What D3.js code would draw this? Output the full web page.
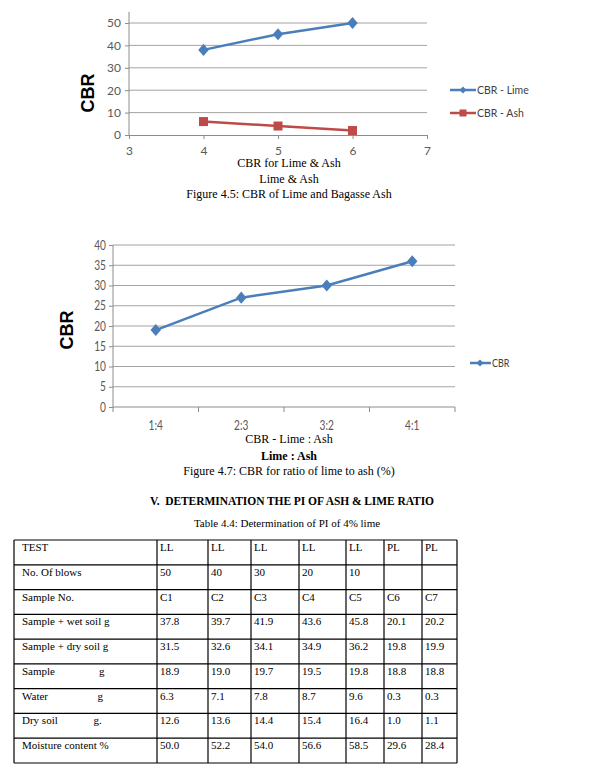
<!DOCTYPE html>
<html><head><meta charset="utf-8">
<script src="https://cdn.jsdelivr.net/npm/d3@7"></script>
<style>body{margin:0;background:#fff}svg{display:block}</style>
</head><body>
<script>
// Chart 1 data
const c1X = [4, 5, 6];
const c1Lime = [38, 45, 50];
const c1Ash = [6, 4, 2];
const c1YTicks = [0, 10, 20, 30, 40, 50];
const c1XTicks = [3, 4, 5, 6, 7];
// Chart 2 data
const c2Cats = ["1:4", "2:3", "3:2", "4:1"];
const c2Vals = [19, 27, 30, 36];
const c2YTicks = [0, 5, 10, 15, 20, 25, 30, 35, 40];
// Table data
const tblHeader = ["TEST", "LL", "LL", "LL", "LL", "LL", "PL", "PL"];
const tblRowLabels = ["No. Of blows", "Sample No.", "Sample + wet soil g", "Sample + dry soil g", "Sample\u00a0\u00a0\u00a0\u00a0\u00a0\u00a0\u00a0\u00a0\u00a0\u00a0\u00a0\u00a0\u00a0\u00a0\u00a0\u00a0g", "Water\u00a0\u00a0\u00a0\u00a0\u00a0\u00a0\u00a0\u00a0\u00a0\u00a0\u00a0\u00a0\u00a0\u00a0\u00a0\u00a0\u00a0\u00a0g", "Dry soil\u00a0\u00a0\u00a0\u00a0\u00a0\u00a0\u00a0\u00a0\u00a0\u00a0\u00a0\u00a0\u00a0g.", "Moisture content %"];
const tblBlows = ["50", "40", "30", "20", "10", "", ""];
const tblSample = ["C1", "C2", "C3", "C4", "C5", "C6", "C7"];
const tblWet = ["37.8", "39.7", "41.9", "43.6", "45.8", "20.1", "20.2"];
const tblDry = ["31.5", "32.6", "34.1", "34.9", "36.2", "19.8", "19.9"];
const tblSampleG = ["18.9", "19.0", "19.7", "19.5", "19.8", "18.8", "18.8"];
const tblWater = ["6.3", "7.1", "7.8", "8.7", "9.6", "0.3", "0.3"];
const tblDrySoil = ["12.6", "13.6", "14.4", "15.4", "16.4", "1.0", "1.1"];
const tblMoisture = ["50.0", "52.2", "54.0", "56.6", "58.5", "29.6", "28.4"];

const W = 604, H = 770;
const svg = d3.select("body").append("svg").attr("width", W).attr("height", H);
const serif = "'Liberation Serif','Times New Roman',serif";
const calib = "Lato,'Open Sans',sans-serif";
const blue = "#4A7EBB", red = "#BE4B48", grid = "#8c8c8c", tickCol = "#595959";
const sx = 0.78; // horizontal condensing for the narrow chart-2 labels

// ---------- Chart 1 ----------
{
  const x = d3.scaleLinear().domain([3, 7]).range([129, 427]);
  const y = d3.scaleLinear().domain([0, 55]).range([135, 11.8]);
  const g = svg.append("g");
  g.selectAll("line.grid").data(c1YTicks.filter(d => d > 0)).join("line")
    .attr("x1", 129).attr("x2", 427).attr("y1", d => y(d)).attr("y2", d => y(d))
    .attr("stroke", grid).attr("stroke-width", 0.8);
  const ya = g.append("g").attr("transform", "translate(129,0)")
    .call(d3.axisLeft(y).tickValues(c1YTicks).tickSize(4).tickPadding(4));
  ya.select(".domain").attr("stroke", grid).attr("d", `M-0,${y(55)}V${y(0)}`);
  ya.selectAll(".tick line").attr("stroke", grid);
  ya.selectAll("text").attr("font-family", calib).attr("font-size", 12).attr("fill", tickCol);
  const xa = g.append("g").attr("transform", `translate(0,${y(0)})`)
    .call(d3.axisBottom(x).tickValues(c1XTicks).tickFormat(d3.format("d")).tickSize(4).tickPadding(7));
  xa.select(".domain").attr("stroke", grid);
  xa.selectAll(".tick line").attr("stroke", grid);
  xa.selectAll("text").attr("font-family", calib).attr("font-size", 12).attr("fill", tickCol);

  const line = d3.line().x((d, i) => x(c1X[i])).y(d => y(d));
  g.append("path").datum(c1Lime).attr("d", line).attr("fill", "none").attr("stroke", blue).attr("stroke-width", 2.5);
  g.append("path").datum(c1Ash).attr("d", line).attr("fill", "none").attr("stroke", red).attr("stroke-width", 2.5);
  const diamond = d3.symbol().type(d3.symbolDiamond2).size(70);
  g.selectAll("path.lm").data(c1Lime).join("path").attr("d", diamond)
    .attr("transform", (d, i) => `translate(${x(c1X[i])},${y(d)}) scale(1,1.15)`).attr("fill", blue);
  g.selectAll("rect.am").data(c1Ash).join("rect")
    .attr("x", (d, i) => x(c1X[i]) - 4.5).attr("y", d => y(d) - 4.5).attr("width", 9).attr("height", 9).attr("fill", red);

  g.append("text").attr("transform", "translate(94,93) rotate(-90)").attr("text-anchor", "middle")
    .attr("font-family", "'Liberation Sans',Arial,sans-serif").attr("font-weight", "bold").attr("font-size", 18).text("CBR");

  // legend
  const lg = g.append("g");
  lg.append("line").attr("x1", 450).attr("x2", 476).attr("y1", 90).attr("y2", 90).attr("stroke", blue).attr("stroke-width", 2.5);
  lg.append("path").attr("d", d3.symbol().type(d3.symbolDiamond2).size(30)).attr("transform", "translate(463,90)").attr("fill", blue);
  lg.append("text").attr("x", 477).attr("y", 94).attr("font-family", calib).attr("font-size", 10.5).attr("fill", "#404040").text("CBR - Lime");
  lg.append("line").attr("x1", 450).attr("x2", 476).attr("y1", 113).attr("y2", 113).attr("stroke", red).attr("stroke-width", 2.5);
  lg.append("rect").attr("x", 459.5).attr("y", 109.5).attr("width", 7).attr("height", 7).attr("fill", red);
  lg.append("text").attr("x", 477).attr("y", 117).attr("font-family", calib).attr("font-size", 10.5).attr("fill", "#404040").text("CBR - Ash");

  g.append("text").attr("x", 289).attr("y", 167).attr("text-anchor", "middle").attr("font-family", serif).attr("font-size", 12).text("CBR for Lime & Ash");
  g.append("text").attr("x", 289).attr("y", 183).attr("text-anchor", "middle").attr("font-family", serif).attr("font-size", 12).text("Lime & Ash");
  g.append("text").attr("x", 289).attr("y", 198).attr("text-anchor", "middle").attr("font-family", serif).attr("font-size", 12).text("Figure 4.5: CBR of Lime and Bagasse Ash");
}

// ---------- Chart 2 ----------
{
  const x = d3.scaleBand().domain(c2Cats).range([113, 455]);
  const y = d3.scaleLinear().domain([0, 40]).range([407, 245]);
  const g = svg.append("g");
  g.selectAll("line.grid").data(c2YTicks.filter(d => d > 0)).join("line")
    .attr("x1", 113).attr("x2", 455).attr("y1", d => y(d)).attr("y2", d => y(d))
    .attr("stroke", grid).attr("stroke-width", 0.8);
  const ya = g.append("g").attr("transform", "translate(113,0)")
    .call(d3.axisLeft(y).tickValues(c2YTicks).tickSize(4).tickPadding(3));
  ya.select(".domain").attr("stroke", grid).attr("d", `M-0,${y(40)}V${y(0)}`);
  ya.selectAll(".tick line").attr("stroke", grid);
  ya.selectAll("text").attr("font-family", calib).attr("font-size", 13).attr("fill", tickCol)
    .attr("x", -7 / sx).attr("transform", `scale(${sx},1)`);
  const xa = g.append("g").attr("transform", `translate(0,${y(0)})`)
    .call(d3.axisBottom(x).tickSize(0).tickPadding(14));
  xa.select(".domain").attr("stroke", grid).attr("d", "M113,0H455");
  xa.selectAll("text").attr("font-family", calib).attr("font-size", 13).attr("fill", tickCol)
    .attr("transform", `scale(${sx},1)`);
  const bounds = c2Cats.map(c => x(c)).concat([455]);
  g.selectAll("line.xt").data(bounds).join("line")
    .attr("x1", d => d).attr("x2", d => d).attr("y1", y(0)).attr("y2", y(0) + 5).attr("stroke", grid);

  const cx = c => x(c) + x.bandwidth() / 2;
  const line = d3.line().x((d, i) => cx(c2Cats[i])).y(d => y(d));
  g.append("path").datum(c2Vals).attr("d", line).attr("fill", "none").attr("stroke", blue).attr("stroke-width", 2.5);
  g.selectAll("path.m").data(c2Vals).join("path").attr("d", d3.symbol().type(d3.symbolDiamond2).size(70))
    .attr("transform", (d, i) => `translate(${cx(c2Cats[i])},${y(d)}) scale(1,1.15)`).attr("fill", blue);

  g.append("text").attr("transform", "translate(73,330) rotate(-90)").attr("text-anchor", "middle")
    .attr("font-family", "'Liberation Sans',Arial,sans-serif").attr("font-weight", "bold").attr("font-size", 18).text("CBR");

  g.append("line").attr("x1", 470).attr("x2", 491).attr("y1", 363).attr("y2", 363).attr("stroke", blue).attr("stroke-width", 2.5);
  g.append("path").attr("d", d3.symbol().type(d3.symbolDiamond2).size(30)).attr("transform", "translate(480,363)").attr("fill", blue);
  g.append("text").attr("transform", `translate(492,367) scale(${sx},1)`).attr("font-family", calib).attr("font-size", 11.5).attr("fill", "#404040").text("CBR");

  g.append("text").attr("x", 289).attr("y", 443).attr("text-anchor", "middle").attr("font-family", serif).attr("font-size", 12).text("CBR - Lime : Ash");
  g.append("text").attr("x", 289).attr("y", 460).attr("text-anchor", "middle").attr("font-family", serif).attr("font-weight", "bold").attr("font-size", 12).text("Lime : Ash");
  g.append("text").attr("x", 289).attr("y", 475).attr("text-anchor", "middle").attr("font-family", serif).attr("font-size", 12).text("Figure 4.7: CBR for ratio of lime to ash (%)");
}

// ---------- Heading & table ----------
svg.append("text").attr("x", 150).attr("y", 505).attr("textLength", 284).attr("lengthAdjust", "spacing")
  .attr("font-family", serif).attr("font-weight", "bold").attr("font-size", 11.5).text("V.\u00a0\u00a0DETERMINATION THE PI OF ASH & LIME RATIO");
svg.append("text").attr("x", 287).attr("y", 527).attr("text-anchor", "middle").attr("font-family", serif).attr("font-size", 11).text("Table 4.4: Determination of PI of 4% lime");

const colX = [14, 157, 208, 251, 299, 346, 384, 422, 457];
const rowsData = [tblBlows, tblSample, tblWet, tblDry, tblSampleG, tblWater, tblDrySoil, tblMoisture];
const allRows = [tblHeader].concat(rowsData.map((r, i) => [tblRowLabels[i]].concat(r)));
const tTop = 540, tBottom = 763;
const rowY = d3.scaleLinear().domain([0, allRows.length]).range([tTop, tBottom]);
const tg = svg.append("g");
tg.selectAll("line.h").data(d3.range(allRows.length + 1)).join("line")
  .attr("x1", colX[0]).attr("x2", colX[colX.length - 1]).attr("y1", d => rowY(d)).attr("y2", d => rowY(d))
  .attr("stroke", "#000").attr("stroke-width", 1.2);
tg.selectAll("line.v").data(colX).join("line")
  .attr("x1", d => d).attr("x2", d => d).attr("y1", tTop).attr("y2", tBottom)
  .attr("stroke", "#000").attr("stroke-width", 1.2);
allRows.forEach((row, ri) => {
  tg.selectAll(null).data(row).join("text")
    .attr("x", (d, ci) => colX[ci] + (ci === 0 ? 8 : 3))
    .attr("y", rowY(ri) + 11)
    .attr("font-family", serif).attr("font-size", 11).attr("fill", "#000")
    .text(d => d);
});
</script>
</body></html>
